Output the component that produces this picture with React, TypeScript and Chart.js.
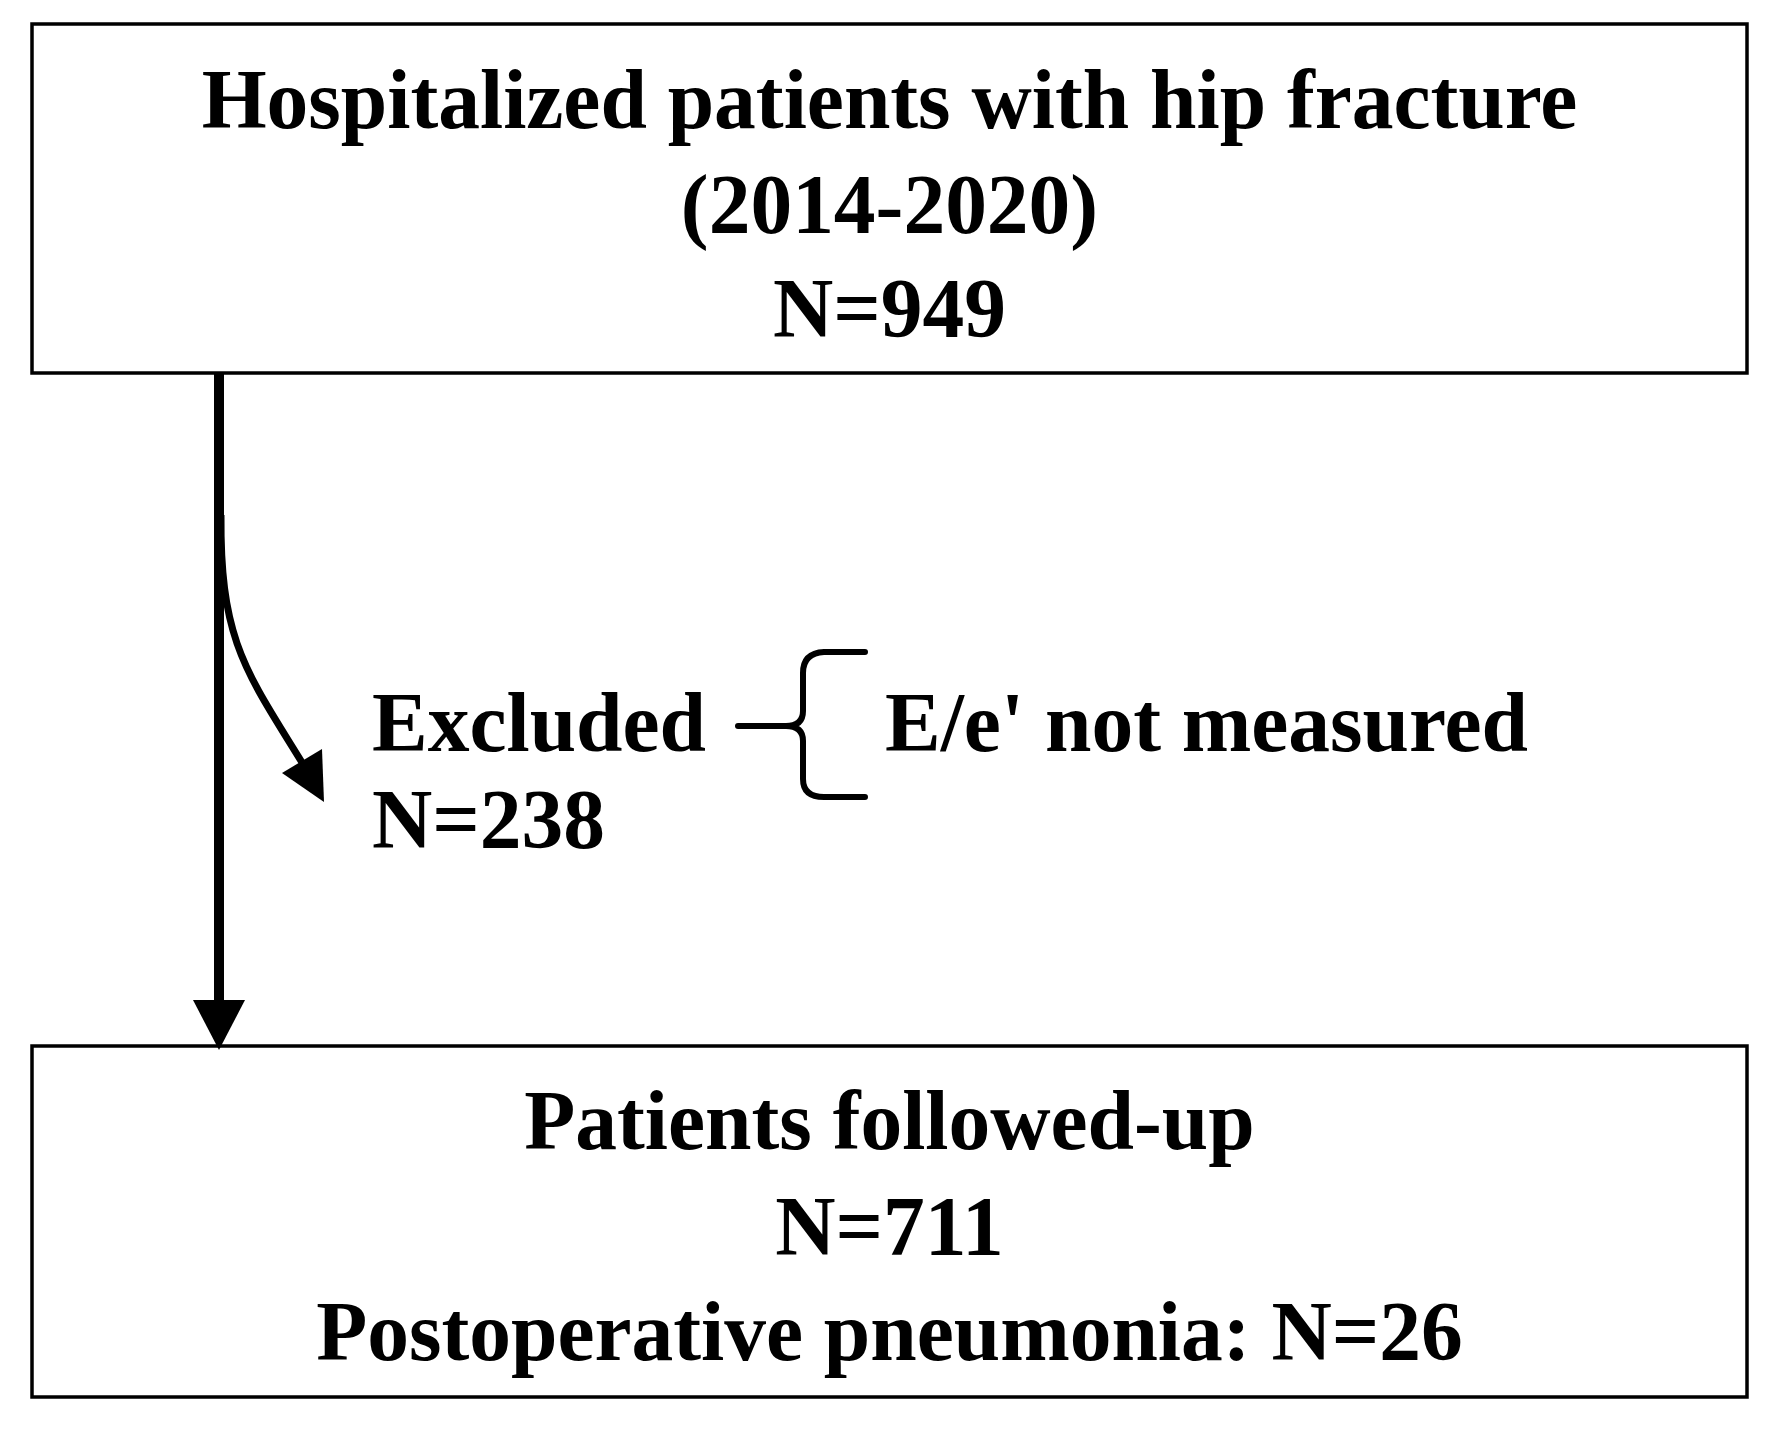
import React, { useEffect, useRef } from "react";
import { Chart, registerables } from "chart.js";

Chart.register(...registerables);

// ---- data ----
const totalLabel = ["Hospitalized patients with hip fracture", "(2014-2020)"];
const totalN = [949];
const excludedLabel = ["Excluded"];
const excludedN = [238];
const excludedReasons = ["E/e' not measured"];
const followedLabel = ["Patients followed-up"];
const followedN = [711];
const outcomeLabel = ["Postoperative pneumonia"];
const outcomeN = [26];

// ---- layout (canvas units) ----
const W = 1772;
const H = 1430;
const topBox = { x0: 32, y0: 24, x1: 1747, y1: 373, baselines: [128, 233, 337] };
const bottomBox = { x0: 32, y0: 1046, x1: 1747, y1: 1397, baselines: [1149, 1255, 1360] };
const FONT = "bold 85px 'Liberation Serif', 'Times New Roman', serif";
const XSCALE = 0.982;

const flowPlugin = {
  id: "flow",
  afterDraw(chart: any) {
    const ctx = chart.ctx as CanvasRenderingContext2D;
    const xs = chart.scales.x;
    const ys = chart.scales.y;
    const X = (v: number) => xs.getPixelForValue(v);
    const Y = (v: number) => ys.getPixelForValue(v);
    ctx.save();
    ctx.strokeStyle = "#000";
    ctx.fillStyle = "#000";
    ctx.lineCap = "butt";
    ctx.lineJoin = "miter";

    // boxes
    const drawBox = (b: any) => {
      ctx.lineWidth = 3.5;
      ctx.strokeRect(X(b.x0), Y(b.y0), X(b.x1) - X(b.x0), Y(b.y1) - Y(b.y0));
    };
    drawBox(topBox);
    drawBox(bottomBox);

    // texts (slightly condensed like the original typeface)
    const text = (t: string, x: number, y: number, align: CanvasTextAlign) => {
      ctx.save();
      ctx.font = FONT;
      ctx.textBaseline = "alphabetic";
      ctx.textAlign = align;
      ctx.translate(x, y);
      ctx.scale(XSCALE, 1);
      ctx.fillText(t, 0, 0);
      ctx.restore();
    };
    const topLines = [...totalLabel, `N=${totalN[0]}`];
    const botLines = [...followedLabel, `N=${followedN[0]}`, `${outcomeLabel[0]}: N=${outcomeN[0]}`];
    const cxTop = (X(topBox.x0) + X(topBox.x1)) / 2;
    topLines.forEach((t, i) => text(t, cxTop, Y(topBox.baselines[i]), "center"));
    const cxBot = (X(bottomBox.x0) + X(bottomBox.x1)) / 2;
    botLines.forEach((t, i) => text(t, cxBot, Y(bottomBox.baselines[i]), "center"));

    text(excludedLabel[0], X(372), Y(751), "left");
    text(`N=${excludedN[0]}`, X(372), Y(848), "left");
    text(excludedReasons[0], X(885), Y(751), "left");

    // main vertical arrow
    ctx.lineWidth = 10;
    ctx.beginPath();
    ctx.moveTo(X(219), Y(topBox.y1));
    ctx.lineTo(X(219), Y(1002));
    ctx.stroke();
    ctx.beginPath();
    ctx.moveTo(X(193), Y(1000));
    ctx.lineTo(X(245), Y(1000));
    ctx.lineTo(X(219), Y(1050));
    ctx.closePath();
    ctx.fill();

    // curved exclusion arrow
    ctx.lineWidth = 7;
    ctx.beginPath();
    ctx.moveTo(X(221), Y(515));
    ctx.bezierCurveTo(X(220), Y(640), X(245), Y(670), X(303), Y(764));
    ctx.stroke();
    ctx.beginPath();
    ctx.moveTo(X(282), Y(773));
    ctx.lineTo(X(322), Y(749));
    ctx.lineTo(X(324), Y(802));
    ctx.closePath();
    ctx.fill();

    // connector + brace
    ctx.lineWidth = 6;
    ctx.lineCap = "round";
    ctx.lineJoin = "round";
    ctx.beginPath();
    ctx.moveTo(X(738), Y(726));
    ctx.lineTo(X(788), Y(726));
    ctx.stroke();
    ctx.beginPath();
    ctx.moveTo(X(865), Y(652));
    ctx.lineTo(X(824), Y(652));
    ctx.quadraticCurveTo(X(803), Y(653), X(803), Y(673));
    ctx.lineTo(X(803), Y(711));
    ctx.quadraticCurveTo(X(803), Y(726), X(786), Y(726));
    ctx.quadraticCurveTo(X(803), Y(726), X(803), Y(741));
    ctx.lineTo(X(803), Y(779));
    ctx.quadraticCurveTo(X(803), Y(797), X(824), Y(797));
    ctx.lineTo(X(865), Y(797));
    ctx.stroke();

    ctx.restore();
  },
};

export default function App() {
  const ref = useRef<HTMLCanvasElement | null>(null);
  useEffect(() => {
    document.body.style.margin = "0";
    document.body.style.background = "#fff";
    if (!ref.current) return;
    const chart = new Chart(ref.current, {
      type: "scatter",
      data: { datasets: [{ data: [], pointRadius: 0 }] },
      options: {
        animation: false,
        responsive: false,
        devicePixelRatio: 1,
        layout: { padding: 0 },
        plugins: { legend: { display: false }, tooltip: { enabled: false } },
        scales: {
          x: { type: "linear", min: 0, max: W, display: false },
          y: { type: "linear", min: 0, max: H, reverse: true, display: false },
        },
      },
      plugins: [flowPlugin],
    });
    return () => chart.destroy();
  }, []);
  return (
    <div style={{ width: W, height: H, background: "#fff" }}>
      <canvas ref={ref} width={W} height={H} style={{ display: "block", width: W, height: H }} />
    </div>
  );
}
